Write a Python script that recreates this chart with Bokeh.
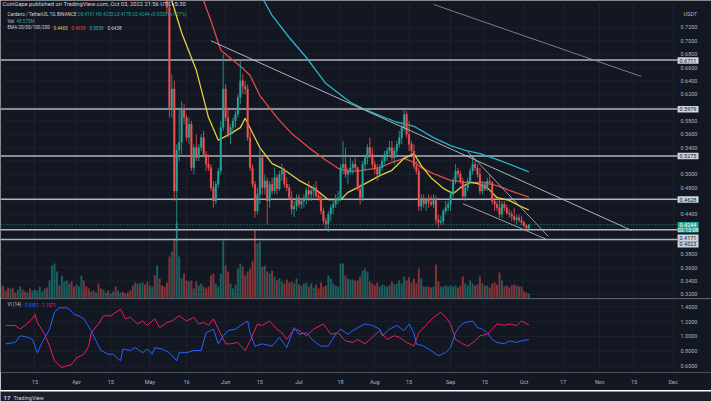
import pandas as pd
from bokeh.plotting import figure
from bokeh.models import (Range1d, FixedTicker, Label, Grid, ColumnDataSource)
from bokeh.layouts import column
from bokeh.embed import file_html
from bokeh.resources import INLINE

# ---------------- data (ADA/USDT daily, 2022-03-01 .. 2022-10-03) ----------------
start_date = "2022-03-01"

opens = [
    # Mar
    0.94, 0.96, 0.93, 0.89, 0.84, 0.85, 0.82, 0.80, 0.81, 0.85, 0.81, 0.80, 0.80, 0.79, 0.81, 0.82,
    0.85, 0.86, 0.88, 0.90, 0.88, 0.92, 1.03, 1.07, 1.11, 1.09, 1.12, 1.16, 1.18, 1.20, 1.16,
    # Apr
    1.14, 1.15, 1.17, 1.18, 1.16, 1.12, 1.04, 1.07, 1.02, 1.03, 1.00, 0.93, 0.95, 0.97, 0.93,
    0.95, 0.95, 0.93, 0.95, 0.97, 0.96, 0.93, 0.91, 0.90, 0.89, 0.90, 0.83, 0.84, 0.85, 0.80,
    # May
    0.78, 0.80, 0.81, 0.79, 0.86, 0.80, 0.79, 0.78, 0.75, 0.60, 0.628, 0.475, 0.536, 0.548, 0.598,
    0.585, 0.555, 0.575, 0.51, 0.54, 0.525, 0.54, 0.555, 0.53, 0.515, 0.51, 0.48, 0.46, 0.485, 0.505, 0.57,
    # Jun
    0.628, 0.585, 0.56, 0.57, 0.58, 0.59, 0.615, 0.64, 0.632, 0.628, 0.555, 0.51, 0.485, 0.445, 0.47,
    0.525, 0.48, 0.49, 0.46, 0.485, 0.475, 0.495, 0.478, 0.50, 0.506, 0.485, 0.48, 0.465, 0.448, 0.452,
    # Jul
    0.465, 0.455, 0.46, 0.465, 0.476, 0.47, 0.475, 0.48, 0.468, 0.465, 0.445, 0.43, 0.426, 0.44, 0.45,
    0.455, 0.462, 0.465, 0.51, 0.515, 0.50, 0.505, 0.51, 0.515, 0.51, 0.478, 0.465, 0.515, 0.525, 0.54, 0.53,
    # Aug
    0.515, 0.508, 0.50, 0.51, 0.52, 0.53, 0.535, 0.54, 0.525, 0.535, 0.545, 0.555, 0.57, 0.59, 0.56,
    0.545, 0.535, 0.512, 0.505, 0.452, 0.462, 0.456, 0.462, 0.458, 0.455, 0.462, 0.432, 0.428, 0.43, 0.445, 0.45,
    # Sep
    0.455, 0.47, 0.49, 0.505, 0.50, 0.49, 0.467, 0.48, 0.49, 0.505, 0.515, 0.51, 0.50, 0.475, 0.485,
    0.478, 0.49, 0.488, 0.46, 0.455, 0.45, 0.44, 0.455, 0.45, 0.442, 0.44, 0.437, 0.432, 0.435, 0.431,
    # Oct
    0.428, 0.423, 0.4191,
]
highs = [
    0.99, 0.97, 0.94, 0.90, 0.87, 0.86, 0.83, 0.83, 0.87, 0.86, 0.82, 0.82, 0.81, 0.82, 0.83, 0.86,
    0.88, 0.89, 0.92, 0.91, 0.93, 1.05, 1.09, 1.13, 1.13, 1.14, 1.18, 1.21, 1.24, 1.21, 1.18,
    1.17, 1.19, 1.20, 1.19, 1.18, 1.13, 1.09, 1.08, 1.05, 1.04, 1.01, 0.97, 0.99, 0.98, 0.96,
    0.97, 0.96, 0.96, 0.99, 1.00, 0.98, 0.94, 0.92, 0.91, 0.92, 0.91, 0.86, 0.87, 0.86, 0.81,
    0.81, 0.82, 0.82, 0.87, 0.88, 0.81, 0.80, 0.785, 0.76, 0.65, 0.64, 0.545, 0.60, 0.61, 0.605,
    0.59, 0.585, 0.58, 0.545, 0.56, 0.545, 0.56, 0.565, 0.535, 0.53, 0.515, 0.49, 0.49, 0.51, 0.58, 0.68,
    0.635, 0.60, 0.575, 0.585, 0.595, 0.62, 0.67, 0.65, 0.64, 0.635, 0.565, 0.515, 0.49, 0.48, 0.54,
    0.53, 0.50, 0.495, 0.49, 0.495, 0.51, 0.50, 0.505, 0.516, 0.51, 0.495, 0.485, 0.475, 0.46, 0.47,
    0.47, 0.465, 0.47, 0.48, 0.49, 0.48, 0.485, 0.49, 0.475, 0.47, 0.45, 0.435, 0.445, 0.455, 0.46,
    0.47, 0.475, 0.515, 0.55, 0.54, 0.51, 0.525, 0.52, 0.525, 0.512, 0.485, 0.52, 0.53, 0.545, 0.555, 0.54,
    0.52, 0.515, 0.515, 0.525, 0.535, 0.54, 0.55, 0.55, 0.54, 0.55, 0.565, 0.575, 0.597, 0.595, 0.58,
    0.55, 0.545, 0.52, 0.51, 0.47, 0.47, 0.465, 0.47, 0.468, 0.47, 0.468, 0.44, 0.438, 0.448, 0.46, 0.46,
    0.475, 0.495, 0.515, 0.51, 0.505, 0.495, 0.485, 0.495, 0.51, 0.526, 0.52, 0.515, 0.51, 0.49, 0.49,
    0.495, 0.50, 0.49, 0.465, 0.46, 0.465, 0.46, 0.46, 0.455, 0.448, 0.445, 0.45, 0.44, 0.44, 0.438,
    0.43, 0.425, 0.4255,
]
lows = [
    0.93, 0.92, 0.88, 0.83, 0.83, 0.81, 0.785, 0.79, 0.80, 0.80, 0.785, 0.79, 0.775, 0.785, 0.80, 0.81,
    0.84, 0.85, 0.87, 0.87, 0.87, 0.91, 1.01, 1.05, 1.06, 1.08, 1.11, 1.14, 1.16, 1.14, 1.12,
    1.10, 1.13, 1.15, 1.14, 1.10, 1.02, 1.03, 1.00, 1.01, 0.99, 0.91, 0.92, 0.93, 0.92, 0.92,
    0.93, 0.92, 0.92, 0.94, 0.95, 0.92, 0.90, 0.89, 0.87, 0.87, 0.82, 0.81, 0.83, 0.79, 0.775,
    0.775, 0.78, 0.78, 0.785, 0.78, 0.77, 0.77, 0.74, 0.585, 0.585, 0.46, 0.40, 0.52, 0.53, 0.575,
    0.55, 0.545, 0.505, 0.50, 0.52, 0.52, 0.535, 0.525, 0.505, 0.505, 0.475, 0.45, 0.455, 0.48, 0.50, 0.565,
    0.58, 0.555, 0.545, 0.56, 0.57, 0.585, 0.605, 0.62, 0.62, 0.55, 0.505, 0.48, 0.435, 0.44, 0.455,
    0.47, 0.47, 0.425, 0.45, 0.47, 0.47, 0.47, 0.475, 0.49, 0.48, 0.475, 0.462, 0.44, 0.436, 0.445,
    0.45, 0.448, 0.45, 0.455, 0.46, 0.46, 0.465, 0.465, 0.46, 0.44, 0.425, 0.416, 0.413, 0.43, 0.44,
    0.45, 0.455, 0.46, 0.50, 0.495, 0.485, 0.50, 0.50, 0.505, 0.475, 0.455, 0.46, 0.505, 0.515, 0.525, 0.51,
    0.50, 0.49, 0.495, 0.505, 0.515, 0.52, 0.53, 0.52, 0.515, 0.525, 0.54, 0.545, 0.565, 0.555, 0.535,
    0.53, 0.508, 0.50, 0.445, 0.445, 0.45, 0.445, 0.45, 0.452, 0.45, 0.425, 0.42, 0.424, 0.425, 0.44, 0.445,
    0.445, 0.465, 0.485, 0.495, 0.485, 0.462, 0.46, 0.475, 0.485, 0.50, 0.505, 0.495, 0.47, 0.47, 0.475,
    0.475, 0.485, 0.455, 0.445, 0.445, 0.435, 0.435, 0.445, 0.44, 0.435, 0.43, 0.428, 0.425, 0.428, 0.424,
    0.42, 0.416, 0.4178,
]
closes = [
    0.96, 0.93, 0.89, 0.84, 0.85, 0.82, 0.80, 0.81, 0.85, 0.81, 0.80, 0.80, 0.79, 0.81, 0.82, 0.85,
    0.86, 0.88, 0.90, 0.88, 0.92, 1.03, 1.07, 1.11, 1.09, 1.12, 1.16, 1.18, 1.20, 1.16, 1.14,
    1.15, 1.17, 1.18, 1.16, 1.12, 1.04, 1.07, 1.02, 1.03, 1.00, 0.93, 0.95, 0.97, 0.93, 0.95,
    0.95, 0.93, 0.95, 0.97, 0.96, 0.93, 0.91, 0.90, 0.89, 0.90, 0.83, 0.84, 0.85, 0.80, 0.78,
    0.80, 0.81, 0.79, 0.86, 0.80, 0.79, 0.78, 0.75, 0.60, 0.628, 0.475, 0.536, 0.548, 0.598, 0.585,
    0.555, 0.575, 0.51, 0.54, 0.525, 0.54, 0.555, 0.53, 0.515, 0.51, 0.48, 0.46, 0.485, 0.505, 0.57, 0.628,
    0.585, 0.56, 0.57, 0.58, 0.59, 0.615, 0.64, 0.632, 0.628, 0.555, 0.51, 0.485, 0.445, 0.47, 0.525,
    0.48, 0.49, 0.46, 0.485, 0.475, 0.495, 0.478, 0.50, 0.506, 0.485, 0.48, 0.465, 0.448, 0.452, 0.465,
    0.455, 0.46, 0.465, 0.476, 0.47, 0.475, 0.48, 0.468, 0.465, 0.445, 0.43, 0.426, 0.44, 0.45, 0.455,
    0.462, 0.465, 0.51, 0.515, 0.50, 0.505, 0.51, 0.515, 0.51, 0.478, 0.465, 0.515, 0.525, 0.54, 0.53, 0.515,
    0.508, 0.50, 0.51, 0.52, 0.53, 0.535, 0.54, 0.525, 0.535, 0.545, 0.555, 0.57, 0.59, 0.56, 0.545,
    0.535, 0.512, 0.505, 0.452, 0.462, 0.456, 0.462, 0.458, 0.455, 0.462, 0.432, 0.428, 0.43, 0.445, 0.45, 0.455,
    0.47, 0.49, 0.505, 0.50, 0.49, 0.467, 0.48, 0.49, 0.505, 0.515, 0.51, 0.50, 0.475, 0.485, 0.478,
    0.49, 0.488, 0.46, 0.455, 0.45, 0.44, 0.455, 0.45, 0.442, 0.44, 0.437, 0.432, 0.435, 0.431, 0.428,
    0.423, 0.4191, 0.4244,
]
volumes = [  # millions
    107, 126, 78, 107, 97, 97, 58, 87, 116, 87, 68, 58, 97, 78, 87, 78, 116, 68, 97, 107, 175,
    320, 340, 262, 126, 223, 165, 175, 146, 165, 116,
    136, 116, 223, 175, 116, 97, 68, 78, 58, 146, 97, 87, 58, 78, 49, 68, 116, 78, 58, 68, 49,
    58, 78, 126, 155, 146, 146, 155, 136, 165,
    126, 116, 223, 320, 194, 126, 116, 155, 407, 456, 582, 737, 407, 194, 243, 175, 165, 175,
    97, 165, 126, 146, 116, 97, 116, 223, 243, 146, 116, 243, 563,
    320, 262, 146, 97, 136, 291, 340, 310, 223, 262, 291, 359, 660, 534, 553, 310, 320, 262, 243,
    272, 213, 175, 194, 165, 146, 184, 155, 165, 146, 194,
    136, 126, 146, 155, 116, 146, 107, 136, 97, 155, 116, 126, 223, 194, 146, 126, 116, 340, 340,
    223, 194, 184, 184, 175, 175, 213, 272, 291, 262, 165, 146,
    126, 155, 116, 136, 126, 116, 126, 165, 136, 146, 175, 146, 213, 175, 204, 155, 194, 146, 291,
    194, 116, 116, 116, 107, 116, 330, 165, 116, 116, 126, 116,
    126, 116, 126, 107, 126, 213, 146, 126, 175, 146, 126, 136, 213, 146, 126, 126, 107, 146, 155,
    136, 252, 175, 116, 126, 107, 126, 136, 126, 116, 116,
    68, 58, 48.575,
]

ema20_dates = ["05-08", "05-10", "05-14", "05-20", "05-25", "05-29", "06-03", "06-07", "06-09", "06-15",
               "06-20", "06-24", "07-01", "07-08", "07-13", "07-18", "07-21", "07-25", "07-29", "08-03",
               "08-08", "08-13", "08-17", "08-20", "08-24", "08-29", "09-02", "09-05", "09-09", "09-12",
               "09-16", "09-20", "09-25", "09-29", "10-03"]
ema20 = [0.80, 0.76, 0.712, 0.656, 0.585, 0.551, 0.561, 0.570, 0.584, 0.540,
         0.516, 0.509, 0.491, 0.477, 0.462, 0.462, 0.473, 0.480, 0.488, 0.498,
         0.506, 0.524, 0.531, 0.513, 0.495, 0.479, 0.471, 0.480, 0.488, 0.486,
         0.480, 0.465, 0.461, 0.453, 0.4465]
ema50_dates = ["05-20", "05-23", "05-26", "05-30", "06-04", "06-08", "06-11", "06-15", "06-22", "06-28",
               "07-05", "07-12", "07-17", "07-22", "07-27", "08-03", "08-08", "08-13", "08-17", "08-20",
               "08-25", "09-01", "09-07", "09-14", "09-20", "09-25", "10-03"]
ema50 = [0.79, 0.760, 0.730, 0.686, 0.671, 0.659, 0.648, 0.618, 0.585, 0.561,
         0.540, 0.521, 0.509, 0.504, 0.506, 0.510, 0.518, 0.524, 0.518, 0.510,
         0.501, 0.491, 0.488, 0.488, 0.483, 0.476, 0.4659]
ema100_dates = ["06-13", "06-17", "06-20", "06-27", "07-04", "07-12", "07-22", "07-27", "08-03", "08-10",
                "08-13", "08-17", "08-25", "09-01", "09-07", "09-13", "09-21", "10-03"]
ema100 = [0.775, 0.758, 0.738, 0.705, 0.675, 0.636, 0.608, 0.599, 0.588, 0.578,
          0.576, 0.572, 0.555, 0.543, 0.536, 0.531, 0.521, 0.5038]
ema_last = [0.4465, 0.4659, 0.5038, 0.6438]

vi_plus_dates = ["03-03", "03-07", "03-09", "03-12", "03-14", "03-16", "03-18", "03-21", "03-23", "03-25",
                 "03-28", "03-29", "03-31", "04-02", "04-04", "04-07", "04-09", "04-11", "04-14", "04-16",
                 "04-19", "04-20", "04-23", "04-25", "04-28", "04-30", "05-02", "05-03", "05-06", "05-09",
                 "05-12", "05-13", "05-16", "05-19", "05-22", "05-24", "05-27", "05-29", "05-31", "06-02",
                 "06-05", "06-08", "06-10", "06-11", "06-13", "06-16", "06-20", "06-23", "06-26", "06-29",
                 "07-01", "07-04", "07-07", "07-10", "07-13", "07-16", "07-18", "07-21", "07-23", "07-25",
                 "07-28", "07-31", "08-03", "08-04", "08-07", "08-10", "08-13", "08-15", "08-17", "08-18",
                 "08-21", "08-24", "08-27", "08-30", "09-01", "09-03", "09-05", "09-07", "09-10", "09-12",
                 "09-14", "09-16", "09-18", "09-20", "09-23", "09-25", "09-28", "09-30", "10-03"]
vi_plus = [0.90, 0.92, 1.01, 0.99, 0.96, 0.78, 0.92, 1.10, 1.33, 1.39,
           1.39, 1.37, 1.30, 1.28, 1.24, 1.08, 0.94, 0.81, 0.76, 0.76,
           0.67, 0.83, 0.81, 0.85, 0.78, 0.83, 0.76, 0.85, 0.83, 0.78,
           0.67, 0.78, 0.78, 0.81, 0.81, 1.05, 1.10, 0.90, 1.01, 1.08,
           1.10, 1.17, 1.21, 1.05, 0.87, 0.90, 0.87, 0.99, 0.85, 1.12,
           1.03, 1.05, 0.94, 0.87, 0.87, 1.03, 1.10, 1.03, 1.08, 1.12,
           1.17, 1.15, 1.10, 1.01, 1.10, 1.15, 1.08, 1.17, 1.05, 0.90,
           0.87, 0.81, 0.74, 0.78, 0.85, 1.05, 1.15, 1.19, 1.21, 1.12,
           1.10, 1.05, 0.96, 0.92, 0.90, 0.94, 0.92, 0.94, 0.9581]
vi_minus_dates = ["03-03", "03-07", "03-09", "03-11", "03-14", "03-15", "03-16", "03-19", "03-21", "03-23",
                  "03-26", "03-28", "03-30", "04-01", "04-04", "04-06", "04-07", "04-10", "04-12", "04-15",
                  "04-19", "04-21", "04-23", "04-26", "04-28", "04-30", "05-03", "05-05", "05-08", "05-10",
                  "05-13", "05-16", "05-19", "05-21", "05-23", "05-25", "05-27", "05-29", "06-01", "06-03",
                  "06-06", "06-09", "06-11", "06-14", "06-16", "06-19", "06-22", "06-24", "06-26", "06-29",
                  "07-01", "07-04", "07-07", "07-11", "07-14", "07-17", "07-20", "07-23", "07-25", "07-28",
                  "07-31", "08-03", "08-06", "08-09", "08-11", "08-14", "08-17", "08-19", "08-23", "08-25",
                  "08-28", "08-30", "09-01", "09-03", "09-06", "09-08", "09-11", "09-13", "09-16", "09-18",
                  "09-20", "09-23", "09-25", "09-28", "09-30", "10-03"]
vi_minus = [1.15, 1.15, 1.10, 1.15, 1.24, 1.30, 1.19, 1.03, 0.87, 0.67,
            0.58, 0.60, 0.62, 0.71, 0.76, 0.87, 1.05, 1.17, 1.28, 1.28,
            1.37, 1.24, 1.26, 1.17, 1.21, 1.15, 1.24, 1.12, 1.19, 1.21,
            1.28, 1.21, 1.26, 1.17, 1.19, 1.15, 1.24, 1.10, 0.90, 0.90,
            0.92, 0.81, 0.94, 1.17, 1.15, 1.21, 1.10, 1.05, 0.96, 1.10,
            1.08, 1.01, 1.10, 1.17, 1.03, 1.05, 0.94, 0.92, 0.96, 0.90,
            0.99, 1.08, 0.96, 1.01, 0.99, 0.92, 0.87, 1.05, 1.19, 1.26,
            1.33, 1.26, 1.17, 0.96, 0.90, 0.87, 0.94, 1.01, 1.03, 1.10,
            1.17, 1.15, 1.17, 1.15, 1.21, 1.1571]

level_prices = [0.6711, 0.5979, 0.5275, 0.4628, 0.4171, 0.4023]
last_price = 0.4244
countdown = "02:13:08"
# drawn trend lines: (start date, start price, end date, end price)
trend_lines = [("2022-05-26", 0.700, "2022-11-14", 0.416),
               ("2022-08-25", 0.7545, "2022-11-18", 0.6466),
               ("2022-09-08", 0.534, "2022-10-11", 0.407),
               ("2022-09-06", 0.456, "2022-10-10", 0.403)]
price_ticks = [0.72, 0.70, 0.68, 0.66, 0.64, 0.62, 0.58, 0.56, 0.54, 0.50, 0.48, 0.44, 0.38, 0.36, 0.34, 0.32]
grid_prices = [0.32, 0.34, 0.36, 0.38, 0.40, 0.42, 0.44, 0.46, 0.48, 0.50, 0.52, 0.54, 0.56, 0.58,
               0.60, 0.62, 0.64, 0.66, 0.68, 0.70, 0.72]
vi_ticks = [0.6, 0.8, 1.0, 1.2, 1.4]
time_tick_dates = ["2022-03-15", "2022-04-01", "2022-04-15", "2022-05-01", "2022-05-16", "2022-06-01",
                   "2022-06-15", "2022-07-01", "2022-07-18", "2022-08-01", "2022-08-15", "2022-09-01",
                   "2022-09-15", "2022-10-01", "2022-10-17", "2022-11-01", "2022-11-15", "2022-12-01"]
time_tick_labels = ["15", "Apr", "15", "May", "16", "Jun", "15", "Jul", "18", "Aug", "15", "Sep",
                    "15", "Oct", "17", "Nov", "15", "Dec"]

# ---------------- styling ----------------
BG = "#131722"
FOOT = "#1b1f2b"
UP = "#26a69a"
DN = "#ef5350"
TXT = "#b2b5be"
GRID = "#1d212d"
FONT = "Roboto"
FS = "5.5px"     # scale labels
LFS = "4.6px"    # legend labels
W = 711
X0, XPANE, XEND = -0.08, 276.8, 290.7   # pane right edge at px 677, canvas right at 711
PX_PER_DAY = 2.445
PRICE_TOP, PX_PER_PRICE = 0.7604, 667.5   # price pane: y px = (PRICE_TOP - price) * PX_PER_PRICE

base = pd.Timestamp(start_date)


def day(s):
    if len(s) == 5:
        s = "2022-" + s
    return (pd.Timestamp(s) - base).days


def px_day(px):
    return X0 + px / PX_PER_DAY


def px_price(py):
    return PRICE_TOP - py / PX_PER_PRICE


xs = list(range(len(closes)))
is_up = [c >= o for o, c in zip(opens, closes)]
src = ColumnDataSource(dict(
    x=xs, open=opens, high=highs, low=lows, close=closes, vol=volumes,
    top=[max(o, c) for o, c in zip(opens, closes)],
    bottom=[min(o, c) for o, c in zip(opens, closes)],
    color=[UP if u else DN for u in is_up],
))

xr = Range1d(X0, XEND)
xticks = [day(s) for s in time_tick_dates]


def base_fig(height, yr, bottom=0):
    f = figure(width=W, height=height, x_range=xr, y_range=yr, output_backend="svg",
               toolbar_location=None, x_axis_location=("below" if bottom else None),
               y_axis_location=None, background_fill_color=BG, border_fill_color=BG,
               outline_line_color=None, min_border_left=0, min_border_right=0,
               min_border_top=0, min_border_bottom=bottom)
    f.grid.visible = False
    f.add_layout(Grid(dimension=0, ticker=FixedTicker(ticks=xticks), grid_line_color=GRID))
    return f


def scale_label(f, text, y, color=TXT, y_units="data", x=680, align="left"):
    f.add_layout(Label(x=x, y=y, x_units="screen", y_units=y_units, text=text,
                       text_color=color, text_font=FONT, text_font_size=FS,
                       text_baseline="middle", text_align=align))


# ---------------- price pane ----------------
p = base_fig(298, Range1d(PRICE_TOP - 298 / PX_PER_PRICE, PRICE_TOP))
p.segment(x0=X0, x1=XPANE, y0=grid_prices, y1=grid_prices, line_color=GRID, line_width=1)

p.extra_y_ranges = {"vol": Range1d(0, 2890)}
p.vbar(x="x", top="vol", bottom=0, width=0.8, source=src, fill_color="color",
       line_color=None, fill_alpha=0.5, y_range_name="vol")

p.segment(x0=X0, x1=XPANE, y0=level_prices, y1=level_prices, line_color="#b2b5be", line_width=1.5)
p.segment(x0=[X0], x1=[XPANE], y0=[last_price], y1=[last_price], line_color=UP, line_width=1,
          line_dash="1 2")

p.line([day(s) for s in ema100_dates], ema100, line_color="#2ab3c7", line_width=1.3)
p.line([day(s) for s in ema50_dates], ema50, line_color="#e0494a", line_width=1.3)
p.line([day(s) for s in ema20_dates], ema20, line_color="#e3d03e", line_width=1.3)

p.segment(x0="x", y0="low", x1="x", y1="high", source=src, line_color="color", line_width=0.8)
p.vbar(x="x", top="top", bottom="bottom", width=0.7, source=src, fill_color="color",
       line_color="color", line_width=0.3)

tl_colors = ["#c9ccd4", "#8c8f98", "#b2b5be", "#b2b5be"]
for (d0, p0, d1, p1), col in zip(trend_lines, tl_colors):
    p.line([day(d0), day(d1)], [p0, p1], line_color=col, line_width=1, line_alpha=0.85)


def plab(text, x, y, color, size=LFS):
    p.add_layout(Label(x=x, y=298 - y, x_units="screen", y_units="screen", text=text,
                       text_color=color, text_font=FONT, text_font_size=size,
                       text_baseline="middle", text_align="left"))


plab("CoinGape published on TradingView.com, Oct 03, 2022 21:56 UTC+5:30", 2, 3.5, "#d1d4dc",
     size="5.8px")
plab("Cardano / TetherUS, 1D, BINANCE", 7, 14, "#d1d4dc")
plab("O%.4f  H%.4f  L%.4f  C%.4f  +0.0053 (+1.27%%)" % (opens[-1], highs[-1], lows[-1], closes[-1]),
     77, 14, UP)
plab("Vol", 7, 20.5, "#d1d4dc")
plab("48.575M", 16, 20.5, UP)
plab("EMA 20/50/100/200", 7, 27, "#d1d4dc")
for val, xx, col in zip(ema_last, [53, 71, 89, 107], ["#e3d03e", "#e0494a", "#2ab3c7", "#d1d4dc"]):
    plab("%.4f" % val, xx, 27, col)

# price scale
for t in price_ticks:
    scale_label(p, "%.4f" % t, t)
scale_label(p, "USDT", 298 - 13, y_units="screen", x=683)
box_y = [60, 108.7, 155.5, 199, 237.2, 243.9]   # label rows (px) for the drawn levels
p.quad(left=px_day(677), right=px_day(698),
       top=[px_price(y - 3.2) for y in box_y], bottom=[px_price(y + 3.2) for y in box_y],
       fill_color="#d1d4dc", line_color=None)
p.quad(left=px_day(677), right=px_day(698), top=px_price(221.6), bottom=px_price(232.0),
       fill_color=UP, line_color=None)
for lv, yy in zip(level_prices, box_y):
    scale_label(p, "%.4f" % lv, 298 - yy, color="#131722", y_units="screen", x=687.5, align="center")
scale_label(p, "%.4f" % last_price, 298 - 224.3, color="#ffffff", y_units="screen", x=687.5,
            align="center")
scale_label(p, countdown, 298 - 229.5, color="#ffffff", y_units="screen", x=687.5, align="center")

# ---------------- vortex pane ----------------
v = base_fig(92, Range1d(0.512, 1.515), bottom=18)
xa = v.xaxis[0]
xa.ticker = FixedTicker(ticks=xticks)
xa.major_label_overrides = {t: lab for t, lab in zip(xticks, time_tick_labels)}
xa.major_label_text_color = TXT
xa.major_label_text_font = FONT
xa.major_label_text_font_size = FS
xa.axis_line_color = None
xa.major_tick_line_color = None
xa.minor_tick_line_color = None
xa.major_tick_out = 0
xa.major_label_standoff = 6
v.segment(x0=X0, x1=XPANE, y0=vi_ticks, y1=vi_ticks, line_color=GRID, line_width=1)
v.segment(x0=[X0], x1=[XEND], y0=[1.512], y1=[1.512], line_color="#2a2e39", line_width=1.5)

v.line([day(s) for s in vi_minus_dates], vi_minus, line_color="#e91e63", line_width=1)
v.line([day(s) for s in vi_plus_dates], vi_plus, line_color="#2962ff", line_width=1)

for t in vi_ticks:
    scale_label(v, "%.4f" % t, t)
for text, xx, col in [("VI (14)", 2.8, "#d1d4dc"), ("%.4f" % vi_plus[-1], 9.8, "#2962ff"),
                      ("%.4f" % vi_minus[-1], 16.8, "#e91e63")]:
    v.add_layout(Label(x=xx, y=1.43, text=text, text_color=col, text_font=FONT,
                       text_font_size=LFS, text_baseline="middle", text_align="left"))

# ---------------- footer ----------------
f = figure(width=W, height=11, x_range=Range1d(0, W), y_range=Range1d(0, 11),
           output_backend="svg", toolbar_location=None, x_axis_location=None,
           y_axis_location=None, background_fill_color=FOOT, border_fill_color=FOOT,
           outline_line_color=None, min_border=0)
f.grid.visible = False
f.add_layout(Label(x=3, y=5, text="17", text_color="#d1d4dc", text_font=FONT,
                   text_font_size="6px", text_font_style="bold", text_baseline="middle"))
f.add_layout(Label(x=13, y=5, text="TradingView", text_color="#d1d4dc", text_font=FONT,
                   text_font_size="5.5px", text_baseline="middle"))

layout = column(p, v, f, spacing=0)
html = file_html(layout, INLINE, title="Cardano / TetherUS")
html = html.replace("<body>", '<body style="margin:0;background:#131722;">', 1)
open("out.html", "w").write(html)
